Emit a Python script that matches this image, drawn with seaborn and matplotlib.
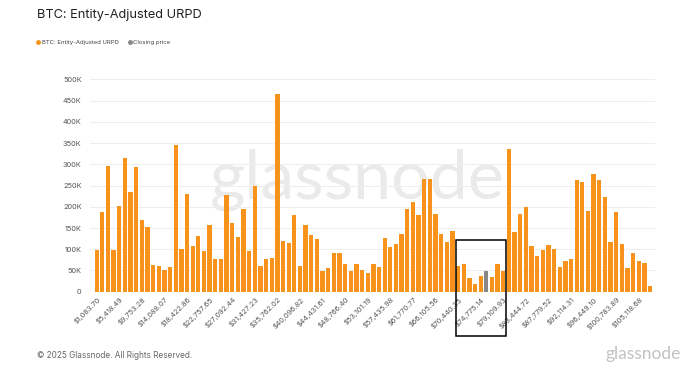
import matplotlib
matplotlib.use("Agg")
import matplotlib.pyplot as plt
import seaborn as sns
import pandas as pd
import numpy as np
from matplotlib.lines import Line2D
from matplotlib.patches import Rectangle

# ---- data (values in thousands of BTC) ----
bin_width = 1083.70
urpd_k = [98, 188, 296, 98, 202, 315, 236, 293, 168, 153,
          62, 61, 50, 59, 345, 100, 230, 108, 131, 95,
          157, 78, 78, 228, 162, 129, 195, 96, 248, 61,
          78, 79, 465, 120, 115, 180, 60, 158, 133, 124,
          48, 56, 92, 92, 66, 48, 66, 50, 44, 66,
          58, 127, 105, 112, 137, 195, 212, 180, 266, 265,
          182, 135, 116, 142, 61, 65, 32, 19, 36, 48,
          34, 66, 49, 337, 141, 184, 199, 107, 85, 99,
          111, 100, 58, 73, 76, 264, 258, 191, 277, 263,
          223, 116, 188, 113, 55, 90, 72, 67, 13]
closing_bin = 70  # bin index (1-based) containing the closing price
tick_labels = ["$1,083.70", "$5,418.49", "$9,753.28", "$14,088.07", "$18,422.86",
               "$22,757.65", "$27,092.44", "$31,427.23", "$35,762.02", "$40,096.82",
               "$44,431.61", "$48,766.40", "$53,101.19", "$57,435.98", "$61,770.77",
               "$66,105.56", "$70,440.35", "$74,775.14", "$79,109.93", "$83,444.72",
               "$87,779.52", "$92,114.31", "$96,449.10", "$100,783.89", "$105,118.68"]
y_ticks_k = [0, 50, 100, 150, 200, 250, 300, 350, 400, 450, 500]

ORANGE = "#f7931a"
GRAY = "#888888"

n = len(urpd_k)
bins = [str(i + 1) for i in range(n)]
series = ["Closing price" if i + 1 == closing_bin else "URPD" for i in range(n)]
df = pd.DataFrame({"bin": bins, "value": np.array(urpd_k) * 1000, "series": series})

sns.set_theme(style="white")
plt.rcParams["font.family"] = ["Inter", "DejaVu Sans"]

W, H = 682, 374
fig = plt.figure(figsize=(W / 100, H / 100), dpi=100)
ax_left, ax_right, ax_top, ax_bottom = 90, 655, 76.5, 291.7
ax = fig.add_axes([ax_left / W, 1 - ax_bottom / H, (ax_right - ax_left) / W, (ax_bottom - ax_top) / H])

# watermark (drawn beneath the transparent axes)
fig.text(357 / W, 1 - 180 / H, "glassnode", fontsize=49, color="#eaeaea",
         ha="center", va="center", family=["Lato", "DejaVu Sans"], weight="normal", zorder=-1)
ax.set_facecolor("none")

sns.barplot(data=df, x="bin", y="value", hue="series", order=bins,
            palette={"URPD": ORANGE, "Closing price": GRAY},
            dodge=False, width=0.76, legend=False, ax=ax, saturation=1, zorder=3,
            linewidth=0)

ax.set_ylim(0, 507000)
bar_px = 5.647
ax.set_xlim(-(96.7 - ax_left) / bar_px, (ax_right - 96.7) / bar_px)
ax.set_yticks([v * 1000 for v in y_ticks_k])
ax.set_yticklabels([("0" if v == 0 else f"{v}K") for v in y_ticks_k], fontsize=5.3, color="#555555")
ax.yaxis.grid(True, color="#eeeeee", linewidth=0.8, zorder=0)
ax.set_axisbelow(True)
ax.set_xticks(list(range(0, n, 4))[:len(tick_labels)])
ax.set_xticklabels(tick_labels, rotation=45, ha="right", rotation_mode="anchor",
                   fontsize=5.3, color="#555555")
ax.tick_params(axis="both", length=0, pad=3)
ax.tick_params(axis="y", pad=6)
ax.set_xlabel("")
ax.set_ylabel("")
for s in ax.spines.values():
    s.set_visible(False)

# title
fig.text(37 / W, 1 - 15 / H, "BTC: Entity-Adjusted URPD", fontsize=9.2, color="#222222",
         ha="left", va="center")

# legend
handles = [Line2D([0], [0], marker="o", linestyle="", markersize=2.5, color=ORANGE),
           Line2D([0], [0], marker="o", linestyle="", markersize=2.5, color=GRAY)]
fig.legend(handles, ["BTC: Entity-Adjusted URPD", "Closing price"], loc="center left",
           bbox_to_anchor=(37 / W, 1 - 42.5 / H), ncol=2, frameon=False, fontsize=4.3,
           handlelength=0.5, handletextpad=0.3, columnspacing=1.6, borderaxespad=0,
           borderpad=0, labelcolor="#444444")

# highlight box
fig.add_artist(Rectangle((456 / W, 1 - 336 / H), 50 / W, 96 / H, transform=fig.transFigure,
                         fill=False, edgecolor="black", linewidth=1.1, zorder=10))

# footer
fig.text(37 / W, 1 - 355 / H, "\u00a9 2025 Glassnode. All Rights Reserved.", fontsize=5.9,
         color="#666666", ha="left", va="center")
fig.text(681 / W, 1 - 354 / H, "glassnode", fontsize=12.5, color="#c2c2c2",
         ha="right", va="center", family=["Lato", "DejaVu Sans"], weight="normal")

fig.savefig("out.png", dpi=100, facecolor="white")
